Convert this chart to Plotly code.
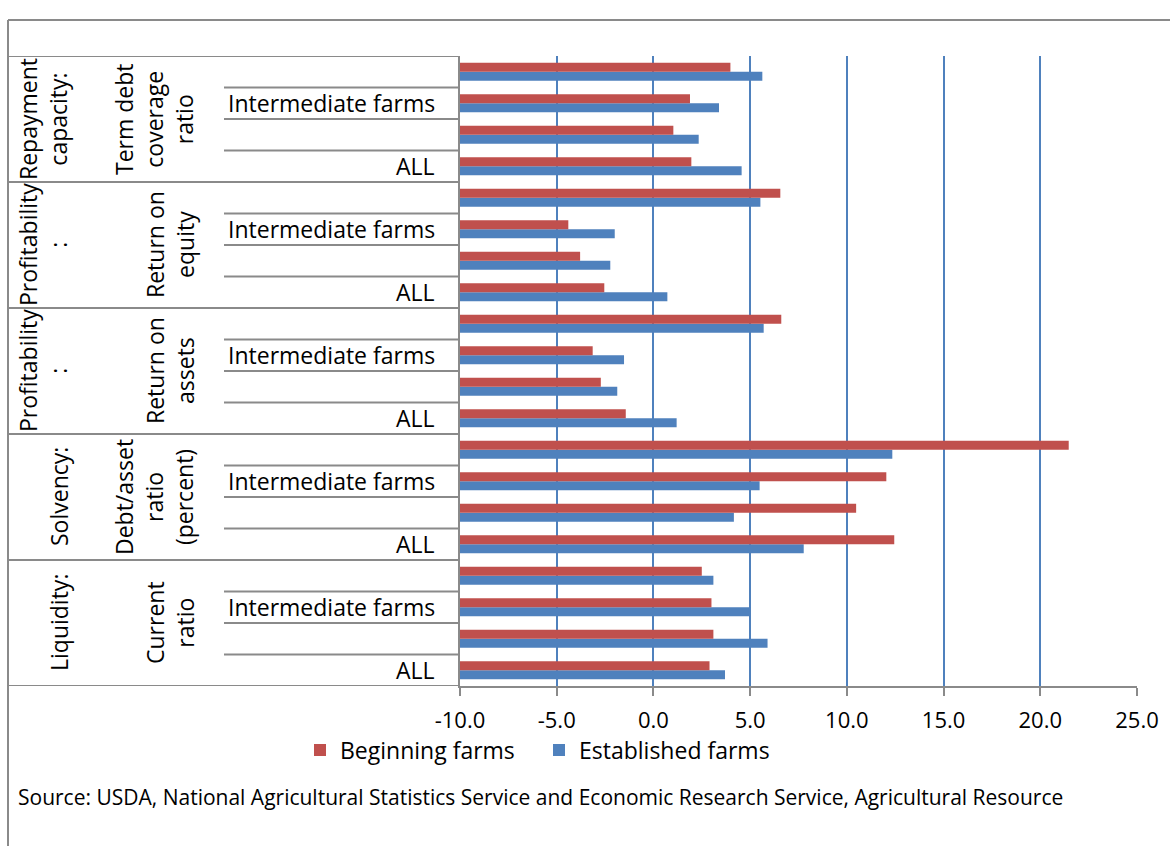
import plotly.graph_objects as go

# Sections of the financial-ratio table, listed bottom to top
section_labels = ["Liquidity:", "Solvency:", "Profitability<br>:", "Profitability<br>:", "Repayment<br>capacity:"]
measure_labels = ["Current<br>ratio", "Debt/asset<br>ratio<br>(percent)", "Return on<br>assets",
                  "Return on<br>equity", "Term debt<br>coverage<br>ratio"]
# Farm rows within each section, bottom to top (only some rows carry a visible label)
farm_labels = ["ALL", "", "Intermediate farms", ""]

# Values per section, ordered like farm_labels
beginning = [
    [2.9, 3.1, 3.0, 2.5],        # Liquidity: current ratio
    [12.45, 10.48, 12.04, 21.47],  # Solvency: debt/asset ratio
    [-1.43, -2.72, -3.14, 6.61],   # Profitability: return on assets
    [-2.54, -3.79, -4.40, 6.56],   # Profitability: return on equity
    [1.96, 1.03, 1.89, 3.98],      # Repayment capacity: term debt coverage
]
established = [
    [3.7, 5.9, 5.0, 3.1],
    [7.77, 4.16, 5.49, 12.35],
    [1.20, -1.87, -1.52, 5.70],
    [0.72, -2.23, -2.00, 5.53],
    [4.56, 2.34, 3.39, 5.63],
]

x_ticks = [-10, -5, 0, 5, 10, 15, 20, 25]
x_tick_text = [f"{v:.1f}" for v in x_ticks]
AXIS_MIN, AXIS_MAX = -10, 25
source_text = ("Source: USDA, National Agricultural Statistics Service and Economic Research Service, "
               "Agricultural Resource")

RED = "#c0504d"
BLUE = "#4f81bd"
GRID = "#4f81bd"
GRAY = "#8a8a8a"
FONT = "Open Sans"
LABEL_SIZE = 23

# One category key per row
keys = []
for s, m in zip(section_labels, measure_labels):
    for j in range(len(farm_labels)):
        keys.append(f"{s}|{m}|{j}")

beg_flat = [v for grp in beginning for v in grp]
est_flat = [v for grp in established for v in grp]

W, H = 1170, 846
ML, MR, MT, MB = 460, 33, 56, 160
PW, PH = W - ML - MR, H - MT - MB


def px_x(px):
    return (px - ML) / PW


def px_y(py):
    return (H - MB - py) / PH


fig = go.Figure()
# Bars grow from the left end of the value axis, where the category axis crosses
fig.add_trace(go.Bar(
    y=keys, x=[v - AXIS_MIN for v in est_flat], base=AXIS_MIN, orientation="h",
    name="Established farms", marker=dict(color=BLUE, line=dict(width=0)), legendrank=2,
))
fig.add_trace(go.Bar(
    y=keys, x=[v - AXIS_MIN for v in beg_flat], base=AXIS_MIN, orientation="h",
    name="Beginning farms", marker=dict(color=RED, line=dict(width=0)), legendrank=1,
))

shapes = []
line = dict(color=GRAY, width=2)
# chart-area frame (top and left edges)
shapes.append(dict(type="line", xref="paper", yref="paper", x0=px_x(8), x1=px_x(W + 5),
                   y0=px_y(20), y1=px_y(20), line=line))
shapes.append(dict(type="line", xref="paper", yref="paper", x0=px_x(8), x1=px_x(8),
                   y0=px_y(20), y1=px_y(H + 5), line=line))

n_rows = len(farm_labels)
for g in range(len(section_labels) + 1):
    yb = g * n_rows - 0.5
    shapes.append(dict(type="line", xref="paper", yref="y", x0=px_x(8), x1=0,
                       y0=yb, y1=yb, line=line))
for g in range(len(section_labels)):
    for j in range(1, n_rows):
        yb = g * n_rows + j - 0.5
        shapes.append(dict(type="line", xref="paper", yref="y", x0=px_x(224), x1=0,
                           y0=yb, y1=yb, line=line))

annotations = []
txt = dict(family=FONT, size=LABEL_SIZE, color="black")
for g, (s, m) in enumerate(zip(section_labels, measure_labels)):
    center = g * n_rows + (n_rows - 1) / 2
    ns = s.count("<br>") + 1
    nm = m.count("<br>") + 1
    annotations.append(dict(text=s, xref="paper", yref="y", x=px_x(59 - (ns - 1) * 16), y=center,
                            xanchor="center", yanchor="middle", textangle=-90, showarrow=False,
                            font=txt))
    annotations.append(dict(text=m, xref="paper", yref="y", x=px_x(186 - (nm - 1) * 16), y=center,
                            xanchor="center", yanchor="middle", textangle=-90, showarrow=False,
                            font=txt))
    for j, lab in enumerate(farm_labels):
        if lab:
            annotations.append(dict(text=lab, xref="paper", yref="y", x=px_x(437),
                                    y=keys[g * n_rows + j], xanchor="right", yanchor="middle",
                                    showarrow=False, font=txt))

annotations.append(dict(text=source_text, xref="paper", yref="paper", x=px_x(16), y=px_y(797),
                        xanchor="left", yanchor="middle", showarrow=False,
                        font=dict(family=FONT, size=21, color="black")))

fig.update_layout(
    width=W, height=H,
    margin=dict(l=ML, r=MR, t=MT, b=MB),
    paper_bgcolor="white", plot_bgcolor="white",
    barmode="group", bargap=0.43, bargroupgap=0,
    showlegend=True,
    legend=dict(orientation="h", x=px_x(300), xanchor="left", y=px_y(750), yanchor="middle",
                font=dict(family=FONT, size=LABEL_SIZE, color="black"), bgcolor="rgba(0,0,0,0)",
                traceorder="normal", entrywidth=194, entrywidthmode="pixels"),
    shapes=shapes, annotations=annotations,
    font=dict(family=FONT),
)
fig.update_xaxes(range=[AXIS_MIN, AXIS_MAX], tickvals=x_ticks, ticktext=x_tick_text,
                 showgrid=True, gridcolor=GRID, gridwidth=2, zeroline=False,
                 showline=True, linecolor=GRAY, linewidth=2,
                 ticks="outside", ticklen=8, tickwidth=2, tickcolor=GRAY,
                 tickfont=dict(family=FONT, size=22, color="black"), ticklabelstandoff=6)
fig.update_yaxes(type="category", categoryorder="array", categoryarray=keys,
                 range=[-0.5, len(keys) - 0.5], showticklabels=False, showgrid=False,
                 zeroline=False, showline=True, linecolor=GRAY, linewidth=2, ticks="")

fig.write_html("out.html")
